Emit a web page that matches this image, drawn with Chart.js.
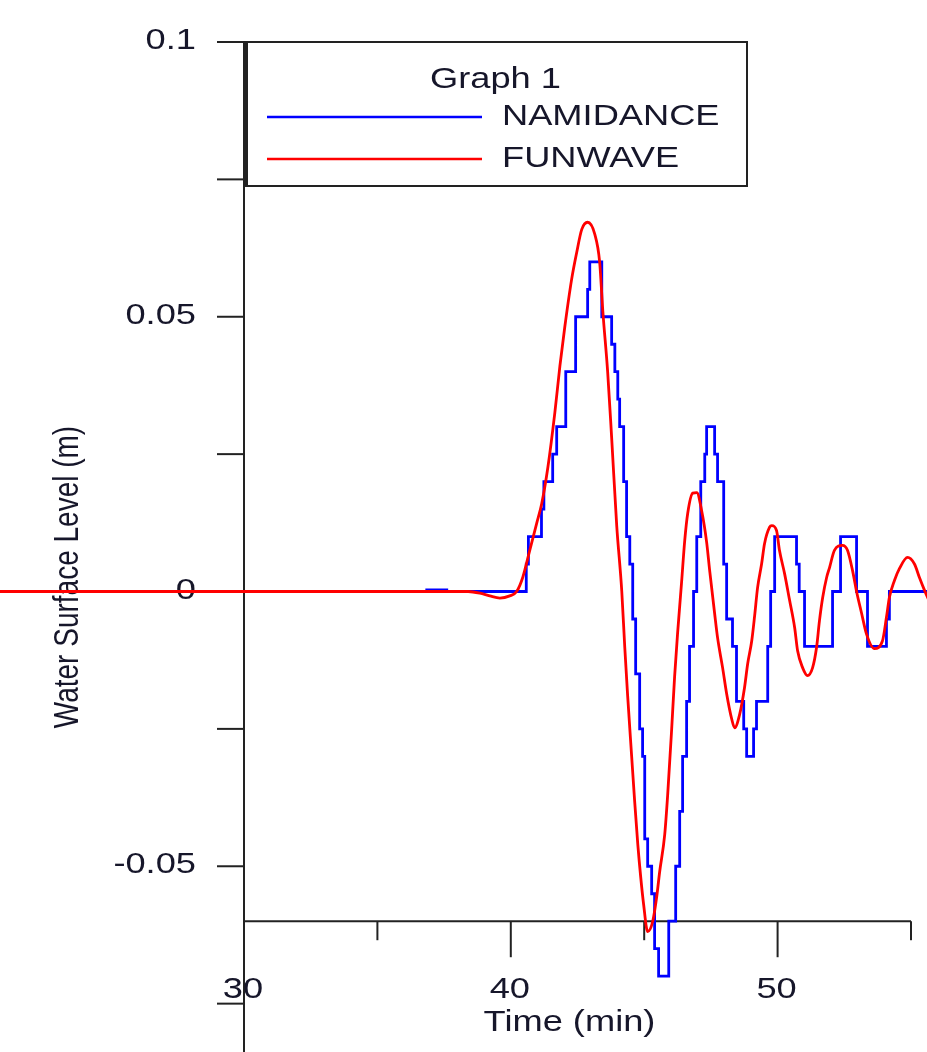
<!DOCTYPE html>
<html><head><meta charset="utf-8">
<script src="https://cdn.jsdelivr.net/npm/chart.js@4.4.1/dist/chart.umd.min.js"></script>
<style>html,body{margin:0;padding:0;background:#fff;}#wrap{width:927px;height:1052px;position:relative;}</style>
</head><body><div id="wrap"><canvas id="c"></canvas></div>
<script>
// ---- data ----
const chartTitle = 'Graph 1';
const xAxisTitle = 'Time (min)';
const yAxisTitle = 'Water Surface Level (m)';
const seriesNames = ['NAMIDANCE', 'FUNWAVE'];
const xMajorTicks = [30, 40, 50];
const xMinorTicks = [35, 45, 55];
const yMajorTicks = [0.1, 0.05, 0, -0.05];
const yMinorTicks = [0.075, 0.025, -0.025, -0.075];
const xAxisCrossing = -0.06;

const namTime  = [20, 36.85, 37.6, 40.58, 40.66, 41.15, 41.24, 41.57, 41.72, 42.06, 42.43, 42.88, 42.96,
  43.41, 43.78, 43.90, 44.01, 44.08, 44.23, 44.34, 44.46, 44.57, 44.68, 44.83, 44.94, 45.02, 45.13, 45.28,
  45.39, 45.54, 45.92, 46.18, 46.33, 46.44, 46.59, 46.70, 46.85, 46.97, 47.12, 47.27, 47.34, 47.64, 47.75,
  47.98, 48.09, 48.31, 48.46, 48.73, 48.84, 49.10, 49.21, 49.63, 49.74, 49.89, 50.71, 50.81, 51.01, 52.06,
  52.36, 52.96, 53.37, 54.08, 54.19, 56];
const namLevel = [0, 0.0003, 0, 0.005, 0.01, 0.015, 0.02, 0.025, 0.03, 0.04, 0.05, 0.055, 0.06,
  0.05, 0.045, 0.04, 0.035, 0.03, 0.02, 0.01, 0.005, -0.005, -0.015, -0.025, -0.03, -0.045, -0.05, -0.055,
  -0.065, -0.07, -0.06, -0.05, -0.04, -0.03, -0.02, -0.01, 0, 0.01, 0.02, 0.025, 0.03, 0.025, 0.02,
  0.005, -0.005, -0.01, -0.02, -0.025, -0.03, -0.025, -0.02, -0.01, 0, 0.01, 0.005, 0, -0.01, 0,
  0.01, 0, -0.01, -0.005, 0, 0];

const funTime  = [20, 38.4, 38.84, 39.21, 39.59, 39.96, 40.22, 40.45, 40.71, 40.97, 41.16, 41.39, 41.65, 41.84,
  42.02, 42.28, 42.47, 42.66, 42.88, 43.15, 43.33, 43.45, 43.63, 43.78, 43.97, 44.16, 44.27, 44.38, 44.53,
  44.64, 44.76, 44.87, 44.98, 45.13, 45.32, 45.47, 45.58, 45.77, 45.88, 46.03, 46.14, 46.25, 46.40, 46.52,
  46.63, 46.82, 46.97, 47.15, 47.34, 47.45, 47.64, 47.75, 47.94, 48.09, 48.28, 48.39, 48.58, 48.76, 48.88,
  49.03, 49.14, 49.25, 49.40, 49.51, 49.70, 49.78, 49.96, 50.07, 50.26, 50.45, 50.64, 50.75, 50.94, 51.12,
  51.31, 51.46, 51.57, 51.69, 51.84, 51.95, 52.13, 52.43, 52.62, 52.81, 52.96, 53.15, 53.33, 53.63, 53.93,
  54.08, 54.19, 54.38, 54.57, 54.87, 55.13, 55.32, 55.5, 55.8];
const funLevel = [0, 0, -0.0003, -0.0008, -0.0012, -0.0008, 0, 0.0026, 0.0075, 0.0124, 0.016, 0.0226, 0.0325, 0.041,
  0.048, 0.0568, 0.0617, 0.0659, 0.0672, 0.065, 0.06, 0.051, 0.04, 0.028, 0.012, 0.0, -0.01, -0.019, -0.03,
  -0.038, -0.046, -0.052, -0.057, -0.0619, -0.06, -0.0555, -0.051, -0.0442, -0.037, -0.025, -0.0155, -0.0077, 0.0016, 0.0093,
  0.0142, 0.0179, 0.018, 0.0148, 0.009, 0.004, -0.004, -0.0084, -0.0139, -0.0186, -0.0232, -0.0248, -0.0223, -0.0175, -0.0131,
  -0.009, -0.0044, 0.0007, 0.005, 0.0087, 0.0117, 0.012, 0.0111, 0.0075, 0.0033, -0.0016, -0.0066, -0.0108, -0.0139, -0.0153,
  -0.0139, -0.0102, -0.0053, -0.0011, 0.0026, 0.0044, 0.0075, 0.0084, 0.0075, 0.0038, 0, -0.004, -0.0077, -0.0104, -0.009,
  -0.0047, -0.0011, 0.002, 0.0042, 0.0062, 0.005, 0.0025, 0.0003, -0.003];

// ---- drawing ----
const FONT = '29px "Liberation Sans", Arial, sans-serif';
const TEXT = '#16162a';
const AXIS = '#222';
const STRETCH = 1.25;

function sText(ctx, s, x, y, align, base) {
  ctx.save(); ctx.translate(x, y); ctx.scale(STRETCH, 1);
  ctx.textAlign = align; ctx.textBaseline = base; ctx.fillText(s, 0, 0); ctx.restore();
}
function seg(ctx, x1, y1, x2, y2) { ctx.beginPath(); ctx.moveTo(x1, y1); ctx.lineTo(x2, y2); ctx.stroke(); }

const axesPlugin = {
  id: 'axes',
  beforeDatasetsDraw(chart) {
    const ctx = chart.ctx, xs = chart.scales.x, ys = chart.scales.y;
    const x0 = xs.getPixelForValue(xMajorTicks[0]);
    const yc = ys.getPixelForValue(xAxisCrossing);
    ctx.save();
    ctx.strokeStyle = AXIS; ctx.lineWidth = 2; ctx.lineCap = 'butt';
    seg(ctx, x0, ys.top - 1, x0, chart.height);
    ctx.fillStyle = TEXT; ctx.font = FONT;
    [...yMajorTicks, ...yMinorTicks].forEach(v => {
      const y = ys.getPixelForValue(v);
      seg(ctx, x0 - 27, y, x0, y);
    });
    yMajorTicks.forEach(v => {
      const y = ys.getPixelForValue(v);
      sText(ctx, String(v), x0 - 48, y - 1, 'right', 'middle');
    });
    const xr = xs.getPixelForValue(xMinorTicks[xMinorTicks.length - 1]);
    seg(ctx, x0, yc, xr, yc);
    xMajorTicks.forEach(v => {
      const x = xs.getPixelForValue(v);
      seg(ctx, x, yc, x, yc + 36);
      sText(ctx, String(v), x - 1, yc + 69, 'center', 'middle');
    });
    xMinorTicks.forEach(v => {
      const x = xs.getPixelForValue(v);
      seg(ctx, x, yc, x, yc + 19);
    });
    sText(ctx, xAxisTitle, (x0 + xr) / 2 - 8, yc + 102, 'center', 'middle');
    // y title
    ctx.save();
    ctx.font = '28px "Liberation Sans", Arial, sans-serif';
    ctx.translate(68, 577); ctx.scale(STRETCH, 1); ctx.rotate(-Math.PI / 2);
    ctx.textAlign = 'center'; ctx.textBaseline = 'middle';
    ctx.fillText(yAxisTitle, 0, 0);
    ctx.restore();
    ctx.restore();
  },
  afterDraw(chart) {
    const ctx = chart.ctx, ys = chart.scales.y, xs = chart.scales.x;
    const top = ys.getPixelForValue(0.1);
    const L = xs.getPixelForValue(30) + 2.5, R = 747, B = 186;
    ctx.save();
    ctx.fillStyle = '#fff';
    ctx.fillRect(L, top, R - L, B - top);
    ctx.strokeStyle = AXIS; ctx.lineWidth = 2;
    ctx.strokeRect(L, top, R - L, B - top);
    ctx.lineWidth = 3; seg(ctx, L, top - 1, L, B + 1);
    ctx.fillStyle = TEXT; ctx.font = FONT;
    sText(ctx, chartTitle, 430, 88, 'left', 'alphabetic');
    const rows = [{y: 117, tb: 125}, {y: 159, tb: 167}];
    chart.data.datasets.forEach((ds, i) => {
      ctx.strokeStyle = ds.borderColor; ctx.lineWidth = 2.5;
      seg(ctx, 267, rows[i].y, 482, rows[i].y);
      ctx.fillStyle = TEXT;
      sText(ctx, ds.label, 502, rows[i].tb, 'left', 'alphabetic');
    });
    ctx.restore();
  }
};

new Chart(document.getElementById('c'), {
  type: 'line',
  data: {
    datasets: [
      { label: seriesNames[0], data: namTime.map((t, i) => ({x: t, y: namLevel[i]})),
        borderColor: '#0000ff', borderWidth: 2.8, stepped: true, pointRadius: 0, fill: false, clip: false, order: 2 },
      { label: seriesNames[1], data: funTime.map((t, i) => ({x: t, y: funLevel[i]})),
        borderColor: '#ff0000', borderWidth: 2.8, cubicInterpolationMode: 'monotone', pointRadius: 0, fill: false, clip: false, order: 1 }
    ]
  },
  options: {
    responsive: true, maintainAspectRatio: false, animation: false,
    events: [],
    layout: { padding: { left: 244, top: 42, right: 0, bottom: 0 } },
    plugins: { legend: { display: false }, tooltip: { enabled: false } },
    scales: {
      x: { type: 'linear', min: 30, max: 55.6, display: false },
      y: { type: 'linear', min: -0.0838, max: 0.1, display: false }
    }
  },
  plugins: [axesPlugin]
});
</script></body></html>
